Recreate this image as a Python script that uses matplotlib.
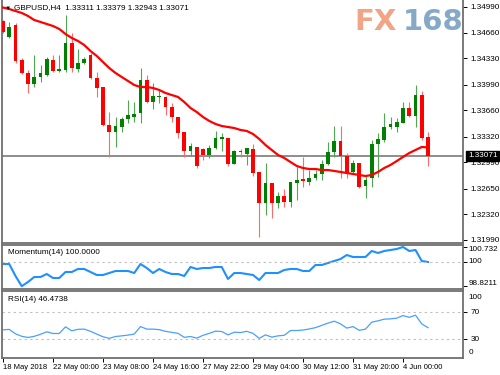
import matplotlib
matplotlib.use("Agg")
import matplotlib.pyplot as plt
import numpy as np
from matplotlib.transforms import blended_transform_factory

# GBPUSD H4 bars
opens = [1.34810, 1.34603, 1.34758, 1.34307, 1.34140, 1.33998, 1.34088, 1.34114, 1.34307, 1.34166,
         1.34178, 1.34526, 1.34191, 1.34269, 1.34372, 1.34075, 1.33959, 1.33470, 1.33380, 1.33444,
         1.33547, 1.33573, 1.33625, 1.34050, 1.33766, 1.33831, 1.33831, 1.33702, 1.33573, 1.33380,
         1.33135, 1.33187, 1.33161, 1.33084, 1.33174, 1.33296, 1.33303, 1.32968, 1.33135, 1.33097,
         1.33161, 1.32865, 1.32465, 1.32723, 1.32465, 1.32556, 1.32478, 1.32723, 1.32775, 1.32736,
         1.32787, 1.32839, 1.32968, 1.33122, 1.33264, 1.33071, 1.32865, 1.32981, 1.32684, 1.32787,
         1.33225, 1.33277, 1.33444, 1.33444, 1.33496, 1.33689, 1.33586, 1.33856, 1.33311]
highs = [1.34822, 1.34797, 1.34784, 1.34333, 1.34178, 1.34372, 1.34243, 1.34346, 1.34372, 1.34372,
         1.34887, 1.34655, 1.34449, 1.34346, 1.34397, 1.34153, 1.33959, 1.33637, 1.33573, 1.33573,
         1.33792, 1.33766, 1.34204, 1.34114, 1.34011, 1.33934, 1.33844, 1.33753, 1.33573, 1.33380,
         1.33238, 1.33187, 1.33174, 1.33212, 1.33393, 1.33367, 1.33303, 1.33148, 1.33161, 1.33174,
         1.33225, 1.32865, 1.32981, 1.32723, 1.32607, 1.32646, 1.32736, 1.32929, 1.33058, 1.32890,
         1.32890, 1.33019, 1.33251, 1.33457, 1.33457, 1.33109, 1.33019, 1.32981, 1.32813, 1.33277,
         1.33367, 1.33625, 1.33573, 1.33560, 1.33766, 1.33766, 1.33985, 1.33908, 1.33379]
lows = [1.34655, 1.34591, 1.34269, 1.34127, 1.33882, 1.33959, 1.34024, 1.34101, 1.34153, 1.34153,
        1.34153, 1.34153, 1.34153, 1.34256, 1.34063, 1.33831, 1.33457, 1.33058, 1.33187, 1.33380,
        1.33496, 1.33509, 1.33496, 1.33753, 1.33676, 1.33753, 1.33599, 1.33509, 1.33303, 1.33058,
        1.33071, 1.32916, 1.33019, 1.33045, 1.33161, 1.33135, 1.32942, 1.32968, 1.33058, 1.32955,
        1.32813, 1.32027, 1.32311, 1.32272, 1.32401, 1.32414, 1.32414, 1.32504, 1.32671, 1.32697,
        1.32762, 1.32762, 1.32955, 1.33058, 1.32787, 1.32787, 1.32852, 1.32659, 1.32530, 1.32671,
        1.32800, 1.33251, 1.33419, 1.33380, 1.33496, 1.33573, 1.33444, 1.33277, 1.32943]
closes = [1.34668, 1.34732, 1.34294, 1.34140, 1.33998, 1.34088, 1.34140, 1.34320, 1.34166, 1.34191,
          1.34526, 1.34204, 1.34269, 1.34320, 1.34075, 1.33947, 1.33470, 1.33380, 1.33457, 1.33547,
          1.33599, 1.33612, 1.34050, 1.33766, 1.33844, 1.33844, 1.33702, 1.33573, 1.33367, 1.33135,
          1.33200, 1.32942, 1.33084, 1.33174, 1.33303, 1.33310, 1.32968, 1.33135, 1.33122, 1.33174,
          1.32852, 1.32465, 1.32723, 1.32465, 1.32556, 1.32478, 1.32736, 1.32762, 1.32749, 1.32787,
          1.32839, 1.32968, 1.33122, 1.33264, 1.33071, 1.32852, 1.32981, 1.32671, 1.32762, 1.33225,
          1.33290, 1.33444, 1.33483, 1.33509, 1.33689, 1.33586, 1.33856, 1.33303, 1.33071]
ma_line = [1.34983, 1.34964, 1.34938, 1.34913, 1.34874, 1.34822, 1.34797, 1.34771, 1.34745, 1.34707,
           1.34642, 1.34591, 1.34552, 1.34500, 1.34423, 1.34359, 1.34281, 1.34204, 1.34140, 1.34088,
           1.34037, 1.33985, 1.33959, 1.33959, 1.33947, 1.33921, 1.33882, 1.33856, 1.33831, 1.33766,
           1.33689, 1.33637, 1.33573, 1.33522, 1.33483, 1.33457, 1.33444, 1.33431, 1.33406, 1.33393,
           1.33354, 1.33290, 1.33212, 1.33148, 1.33084, 1.33045, 1.32993, 1.32942, 1.32916, 1.32903,
           1.32903, 1.32890, 1.32890, 1.32878, 1.32865, 1.32852, 1.32839, 1.32826, 1.32813, 1.32826,
           1.32865, 1.32916, 1.32955, 1.33006, 1.33058, 1.33109, 1.33148, 1.33187, 1.33180]
momentum = [99.902, 99.902, 99.317, 98.821, 99.024, 99.268, 99.268, 99.415, 99.220, 99.220,
            99.512, 99.512, 99.659, 99.659, 99.512, 99.366, 99.366, 99.463, 99.561, 99.561,
            99.561, 99.463, 99.902, 99.707, 99.463, 99.659, 99.512, 99.415, 99.415, 99.317,
            99.756, 99.659, 99.707, 99.707, 99.756, 99.756, 99.171, 99.463, 99.463, 99.415,
            99.366, 99.122, 99.463, 99.463, 99.463, 99.610, 99.659, 99.659, 99.561, 99.561,
            99.854, 99.854, 99.951, 100.049, 100.146, 100.341, 100.244, 100.244, 100.244, 100.537,
            100.439, 100.537, 100.585, 100.634, 100.732, 100.537, 100.585, 100.049, 100.000]
rsi = [43.3, 44.0, 37.4, 33.7, 32.0, 33.7, 36.7, 40.4, 37.9, 37.9,
       47.8, 41.9, 44.1, 44.4, 41.1, 37.0, 33.0, 30.7, 33.4, 34.4,
       35.5, 37.1, 48.2, 44.4, 44.4, 43.6, 41.1, 39.6, 38.1, 32.2,
       33.4, 31.0, 35.2, 38.1, 41.4, 40.8, 35.9, 39.8, 39.3, 41.1,
       38.1, 30.7, 35.9, 32.5, 34.4, 35.2, 42.3, 42.3, 43.0, 44.6,
       46.6, 50.0, 53.3, 56.2, 52.2, 45.9, 48.1, 42.6, 44.4, 54.7,
       56.7, 59.2, 59.6, 60.7, 64.5, 61.9, 65.1, 52.2, 46.4738]

date_labels = ["18 May 2018", "22 May 00:00", "23 May 08:00", "24 May 16:00", "27 May 22:00",
               "29 May 04:00", "30 May 12:00", "31 May 20:00", "4 Jun 00:00"]
price_ticks = [1.34990, 1.34660, 1.34330, 1.33990, 1.33660, 1.33320, 1.32990, 1.32650, 1.32320, 1.31990]
mom_ticks = [100.732, 100.0, 98.8211]
mom_tick_labels = ["100.732", "100", "98.8211"]
last_price = 1.33071

FS = 5.9
FRAME = "#6f6f6f"
plt.rcParams["font.family"] = ["Liberation Sans", "DejaVu Sans"]

n = len(closes)
x = np.arange(n)
o = np.array(opens)
c = np.array(closes)
up = c >= o

fig = plt.figure(figsize=(5, 3.75), dpi=100)
W, H = 500, 375


def box(left, top, right, bottom):
    return [left / W, 1 - bottom / H, (right - left) / W, (bottom - top) / H]


ax = fig.add_axes(box(2, 0, 463, 243))
ax_mom = fig.add_axes(box(2, 245, 463, 289))
ax_rsi = fig.add_axes(box(2, 291, 463, 358))

for a in (ax, ax_mom, ax_rsi):
    a.set_xlim(-0.16, 73.6)
    for s in a.spines.values():
        s.set_color(FRAME)
        s.set_linewidth(1.3)
    a.yaxis.tick_right()
    a.tick_params(axis="y", length=3, width=0.7, pad=2.5, labelsize=FS, colors="black")
    a.tick_params(axis="x", bottom=False, labelbottom=False)
ax.spines["top"].set_visible(False)

# price panel
ax.axhline(last_price, color="#7a7a7a", lw=1.2, zorder=1)
wick_col = np.where(up, "#52a852", "#ff6a6a")
ax.vlines(x, lows, highs, colors=wick_col, lw=0.8, zorder=2)
body_h = np.maximum(np.abs(c - o), 0.00008)
ax.bar(x, body_h, bottom=np.minimum(o, c), width=0.62,
       color=np.where(up, "#008000", "#ff0000"), zorder=3)
ax.plot(x, ma_line, color="#ff0000", lw=1.6, zorder=4)
ax.set_ylim(1.31950, 1.35080)
ax.set_yticks(price_ticks, [f"{v:.5f}" for v in price_ticks])
tr = blended_transform_factory(ax.transAxes, ax.transData)
ax.text(1 + 5 / 461, last_price, f"{last_price:.5f}", transform=tr, color="white",
        fontsize=FS, va="center", ha="left", zorder=10,
        bbox=dict(boxstyle="square,pad=0.2", fc="black", ec="black"))

fig.text(5 / W, 1 - 8 / H, "\u25BC", fontsize=4.5, va="center", ha="left")
fig.text(14 / W, 1 - 8 / H, "GBPUSD,H4  " + " ".join(f"{v:.5f}" for v in
         (opens[-1], highs[-1], lows[-1], closes[-1])), fontsize=FS, va="center", ha="left")

# watermark
fig.text(376 / W, 1 - 22.5 / H, "FX", fontsize=21, fontweight="bold", color="#f2a487",
         family="DejaVu Sans", va="center", ha="center")
fig.text(433 / W, 1 - 22.5 / H, "168", fontsize=21, fontweight="bold", color="#85a9c6",
         family="DejaVu Sans", va="center", ha="center")

# momentum panel
ax_mom.plot(x, momentum, color="#1e90ff", lw=1.5)
ax_mom.axhline(100, color="#bdbdbd", lw=0.8, ls=(0, (2, 3)))
ax_mom.set_ylim(98.683, 100.829)
ax_mom.set_yticks(mom_ticks, [""] * 3)
tr_m = blended_transform_factory(ax_mom.transAxes, ax_mom.transAxes)
for lab, fy in zip(mom_tick_labels, [0.909, 0.614, 0.136]):
    ax_mom.text(1 + 5.5 / 461, fy, lab, transform=tr_m, fontsize=FS, va="center", ha="left")
ax_mom.text(6 / 461, 0.84, f"Momentum(14) {momentum[-1]:.4f}", transform=ax_mom.transAxes,
            fontsize=FS, va="center", ha="left")

# rsi panel
ax_rsi.plot(x, rsi, color="#49a0ff", lw=0.9)
for lvl in (70, 30):
    ax_rsi.axhline(lvl, color="#bdbdbd", lw=0.8, ls=(0, (2, 3)))
ax_rsi.set_ylim(1.5, 101)
ax_rsi.set_yticks([70, 30], ["70", "30"])
tr_r = blended_transform_factory(ax_rsi.transAxes, ax_rsi.transAxes)
for lab, fy in zip(["100", "0"], [0.91, 0.075]):
    ax_rsi.text(1 + 5.5 / 461, fy, lab, transform=tr_r, fontsize=FS, va="center", ha="left")
ax_rsi.text(6 / 461, 0.88, f"RSI(14) {rsi[-1]:.4f}", transform=ax_rsi.transAxes,
            fontsize=FS, va="center", ha="left")

tick_idx = list(range(0, 65, 8))
ax_rsi.set_xticks(tick_idx, date_labels)
ax_rsi.tick_params(axis="x", bottom=True, labelbottom=True, length=3, width=0.7,
                   pad=1.5, labelsize=5.5, colors="black")
for lab in ax_rsi.get_xticklabels():
    lab.set_horizontalalignment("left")

fig.savefig("out.png", dpi=100, facecolor="white")
